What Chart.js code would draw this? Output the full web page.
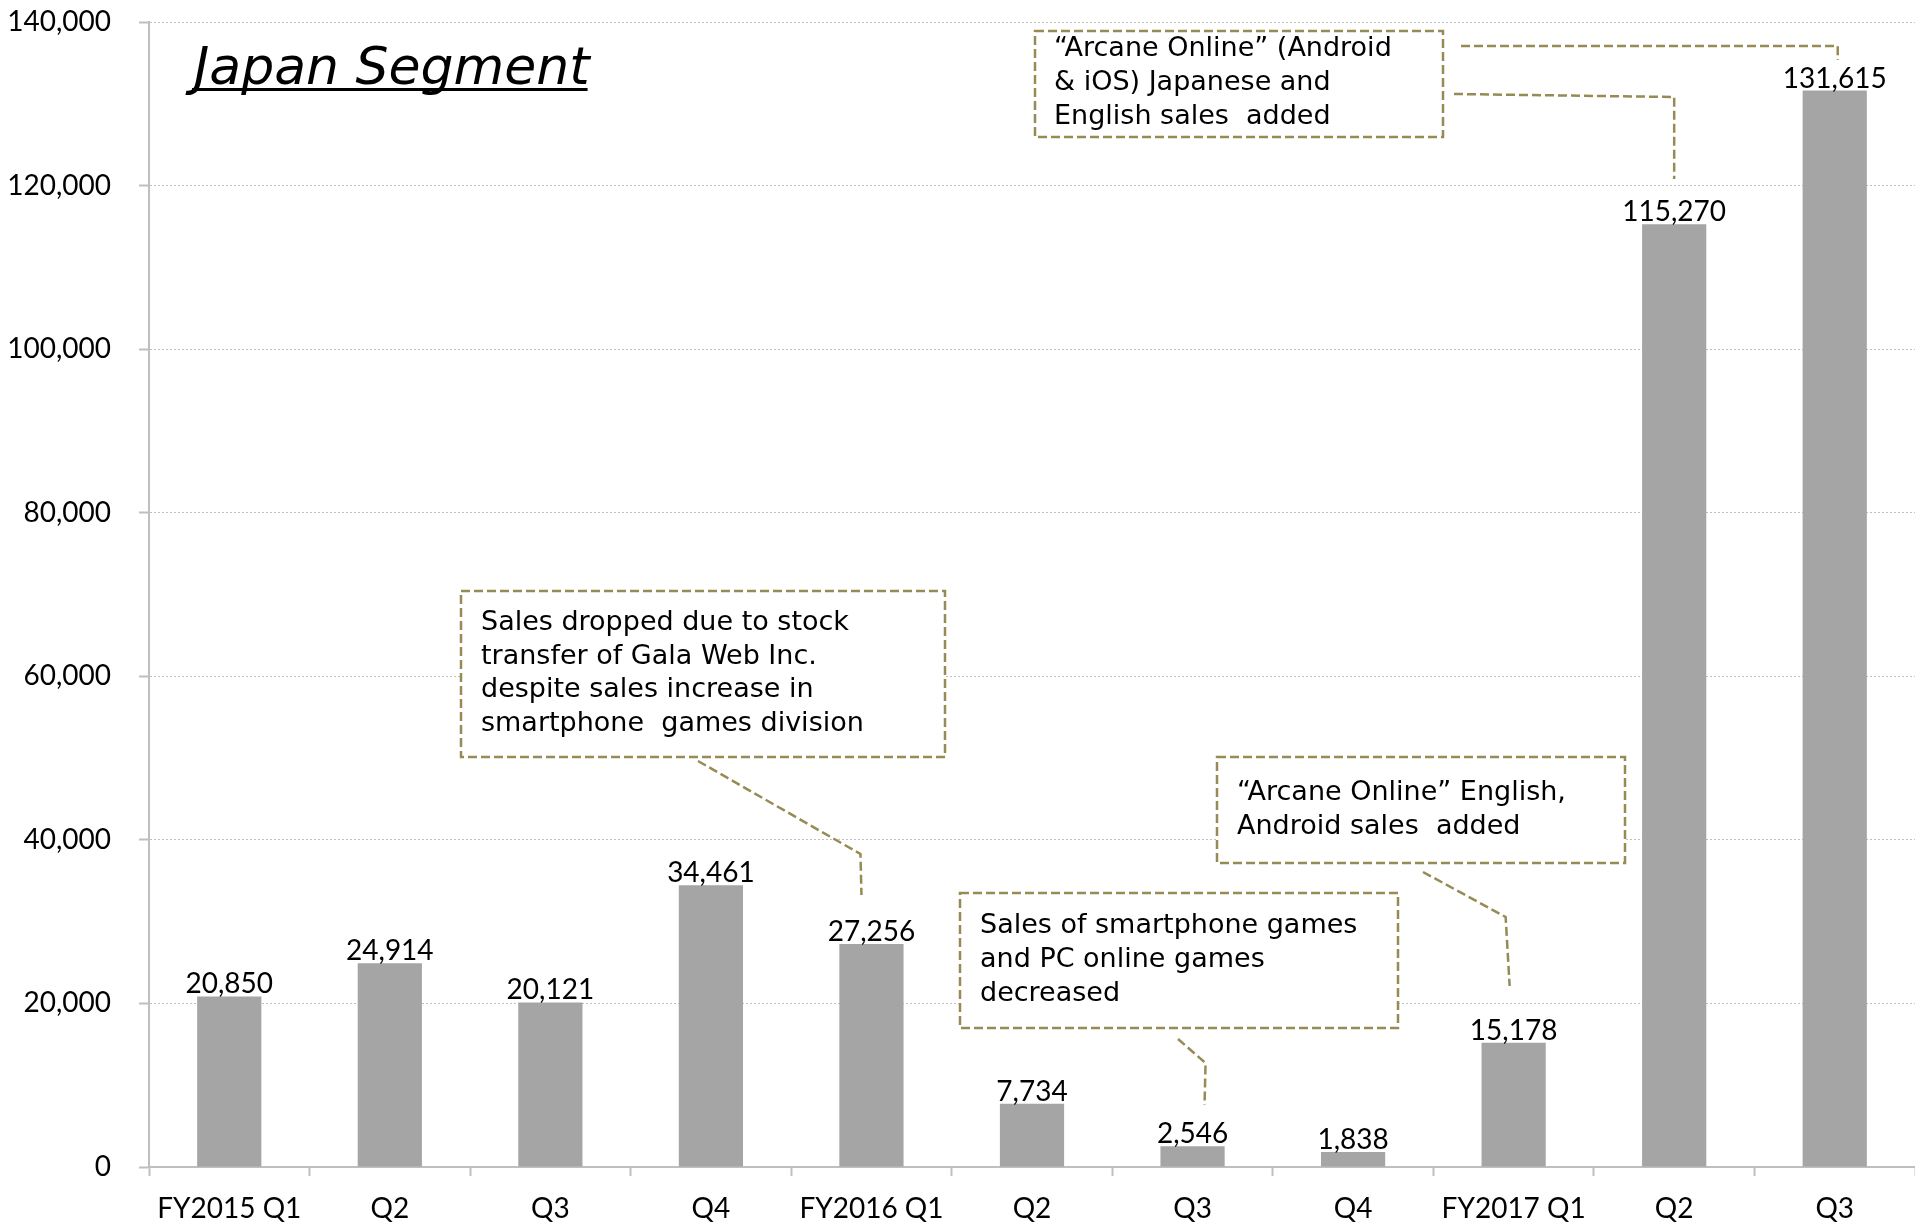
<!DOCTYPE html>
<html>
<head>
<meta charset="utf-8">
<title>Japan Segment</title>
<script src="https://cdn.jsdelivr.net/npm/chart.js@4/dist/chart.umd.min.js"></script>
<style>
  html, body { margin: 0; padding: 0; background: #ffffff; }
  #wrap { width: 1915px; height: 1224px; position: relative; }
  canvas { display: block; }
</style>
</head>
<body>
<div id="wrap"><canvas id="chart" width="1915" height="1224"></canvas></div>
<script>
// Quarterly sales, Japan segment
const categories = ['FY2015 Q1', 'Q2', 'Q3', 'Q4', 'FY2016 Q1', 'Q2', 'Q3', 'Q4', 'FY2017 Q1', 'Q2', 'Q3'];
const salesValues = [20850, 24914, 20121, 34461, 27256, 7734, 2546, 1838, 15178, 115270, 131615];
const yTickValues = [0, 20000, 40000, 60000, 80000, 100000, 120000, 140000];

const chartTitle = 'Japan Segment';

// Callout texts (one array of lines per note)
const noteStockTransfer = ['Sales dropped due to stock', 'transfer of Gala Web Inc.', 'despite sales increase in', 'smartphone  games division'];
const noteDecrease = ['Sales of smartphone games', 'and PC online games', 'decreased'];
const noteEnglishAndroid = ['\u201cArcane Online\u201d English,', 'Android sales  added'];
const noteJapaneseEnglish = ['\u201cArcane Online\u201d (Android', '& iOS) Japanese and', 'English sales  added'];

const AXIS_GRAY = '#bfbfbf';
const NOTE_COLOR = '#968b55';
const LABEL_FONT = 'Lato, "Liberation Sans", sans-serif';
const NOTE_FONT = '"DejaVu Sans", Verdana, sans-serif';
const PLOT_TOP = 22;

const fmt = v => Number(v).toLocaleString('en-US');

// Value labels above each bar
const valueLabels = {
  id: 'valueLabels',
  afterDatasetsDraw(chart) {
    const ctx = chart.ctx;
    const meta = chart.getDatasetMeta(0);
    ctx.save();
    ctx.font = '28px ' + LABEL_FONT;
    ctx.fillStyle = '#000000';
    ctx.textAlign = 'center';
    ctx.textBaseline = 'alphabetic';
    meta.data.forEach((bar, i) => {
      ctx.fillText(fmt(salesValues[i]), bar.x, bar.y - 3);
    });
    ctx.restore();
  }
};

// Title and dashed callout boxes with leader lines to their bars
const notes = {
  id: 'notes',
  afterDraw(chart) {
    const ctx = chart.ctx;
    const xs = chart.scales.x;
    const barX = i => xs.getPixelForValue(i);

    ctx.save();
    // title
    ctx.font = 'oblique 52px ' + NOTE_FONT;
    ctx.fillStyle = '#000000';
    ctx.textBaseline = 'alphabetic';
    ctx.textAlign = 'left';
    ctx.fillText(chartTitle, 194, 84);
    const tw = ctx.measureText(chartTitle).width;
    ctx.fillRect(192, 88, tw, 3);

    const box = (x, y, w, h, lines, tx, ty0, lh) => {
      ctx.save();
      ctx.fillStyle = '#ffffff';
      ctx.fillRect(x, y, w, h);
      ctx.strokeStyle = NOTE_COLOR;
      ctx.lineWidth = 2.5;
      ctx.setLineDash([9, 4]);
      ctx.strokeRect(x, y, w, h);
      ctx.setLineDash([]);
      ctx.fillStyle = '#000000';
      ctx.font = '27px ' + NOTE_FONT;
      ctx.textAlign = 'left';
      ctx.textBaseline = 'alphabetic';
      lines.forEach((t, k) => ctx.fillText(t, tx, ty0 + k * lh));
      ctx.restore();
    };
    const leader = pts => {
      ctx.save();
      ctx.strokeStyle = NOTE_COLOR;
      ctx.lineWidth = 2.5;
      ctx.setLineDash([9, 4]);
      ctx.beginPath();
      ctx.moveTo(pts[0][0], pts[0][1]);
      for (let k = 1; k < pts.length; k++) ctx.lineTo(pts[k][0], pts[k][1]);
      ctx.stroke();
      ctx.restore();
    };

    box(461, 591, 484, 166, noteStockTransfer, 481, 630, 33.5);
    leader([[698, 761], [barX(4) - 11, 854], [barX(4) - 10, 895]]);

    box(960, 893, 438, 135, noteDecrease, 980, 933, 34);
    leader([[1178, 1039], [barX(6) + 13, 1063], [barX(6) + 12, 1105]]);

    box(1217, 757, 408, 106, noteEnglishAndroid, 1237, 800, 33.5);
    leader([[1423, 872], [barX(8) - 8, 917], [barX(8) - 4, 986]]);

    box(1035, 31, 408, 106, noteJapaneseEnglish, 1054, 56, 34);
    leader([[1461, 46], [barX(10) + 3, 46], [barX(10) + 3, 60]]);
    leader([[1454, 94], [barX(9), 97], [barX(9), 179]]);

    ctx.restore();
  }
};

new Chart(document.getElementById('chart'), {
  type: 'bar',
  data: {
    labels: categories,
    datasets: [{
      data: salesValues,
      backgroundColor: '#a5a5a5',
      borderWidth: 0,
      categoryPercentage: 1.0,
      barPercentage: 0.4
    }]
  },
  options: {
    responsive: false,
    animation: false,
    events: [],
    layout: { padding: 0 },
    plugins: { legend: { display: false }, tooltip: { enabled: false }, title: { display: false } },
    scales: {
      x: {
        afterFit: s => { s.height = 57; },
        grid: {
          offset: true,
          drawOnChartArea: false,
          drawTicks: true,
          tickLength: 9,
          tickColor: AXIS_GRAY,
          tickWidth: 2
        },
        border: { display: true, color: AXIS_GRAY, width: 2 },
        ticks: {
          color: '#000000',
          font: { family: LABEL_FONT, size: 28 },
          padding: 16,
          maxRotation: 0,
          autoSkip: false
        }
      },
      y: {
        min: 0,
        max: 140000,
        afterFit: s => { s.width = 149; s.paddingTop = PLOT_TOP; s.paddingBottom = 0; },
        afterBuildTicks: s => { s.ticks = yTickValues.map(v => ({ value: v })); },
        grid: {
          color: AXIS_GRAY,
          lineWidth: 1,
          drawTicks: true,
          tickLength: 10,
          tickColor: AXIS_GRAY,
          tickWidth: 2,
          tickBorderDash: []
        },
        border: { display: true, color: AXIS_GRAY, width: 2, dash: [2, 2] },
        ticks: {
          color: '#000000',
          font: { family: LABEL_FONT, size: 28 },
          padding: 28,
          callback: v => fmt(v)
        }
      }
    }
  },
  plugins: [valueLabels, notes]
});
</script>
</body>
</html>
